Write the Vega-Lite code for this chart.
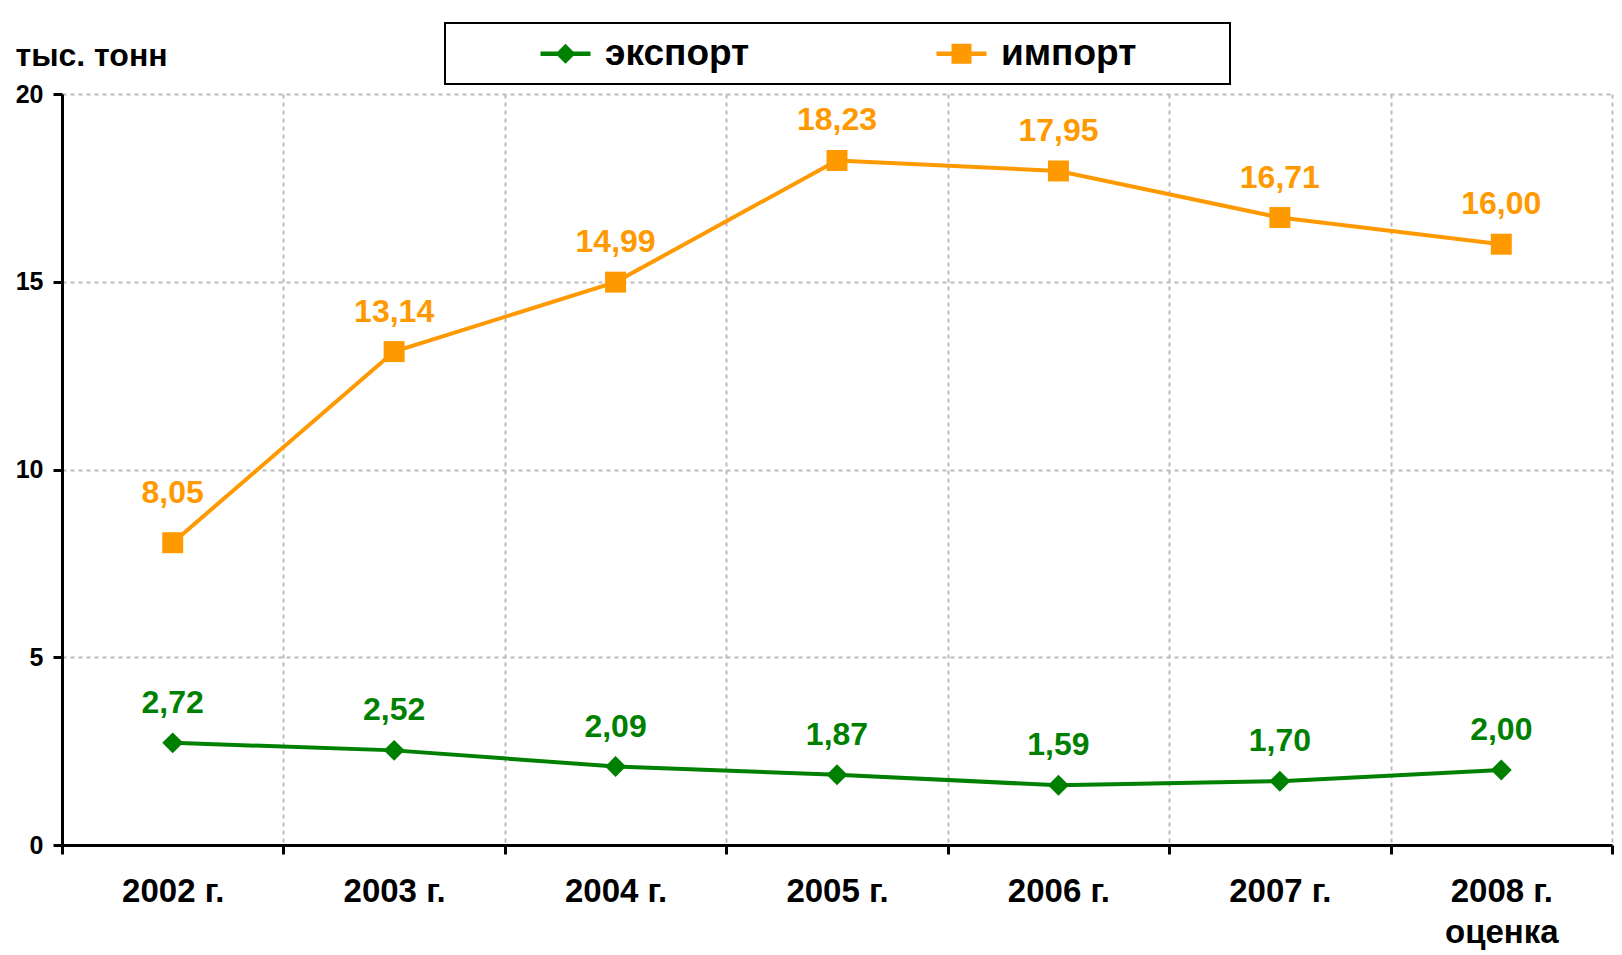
{
  "$schema": "https://vega.github.io/schema/vega-lite/v6.json",
  "autosize": {"type": "none"},
  "padding": {"left": 62, "top": 94, "right": 10, "bottom": 110},
  "width": 1550,
  "height": 751,
  "background": "white",
  "config": {
    "view": {"stroke": null},
    "font": "Liberation Sans",
    "locale": {"number": {"decimal": ",", "thousands": " ", "grouping": [3], "currency": ["", ""]}}
  },
  "data": {
    "values": [
      {"year": "2002 г.", "series": "экспорт", "value": 2.72},
      {"year": "2003 г.", "series": "экспорт", "value": 2.52},
      {"year": "2004 г.", "series": "экспорт", "value": 2.09},
      {"year": "2005 г.", "series": "экспорт", "value": 1.87},
      {"year": "2006 г.", "series": "экспорт", "value": 1.59},
      {"year": "2007 г.", "series": "экспорт", "value": 1.70},
      {"year": "2008 г. оценка", "series": "экспорт", "value": 2.00},
      {"year": "2002 г.", "series": "импорт", "value": 8.05},
      {"year": "2003 г.", "series": "импорт", "value": 13.14},
      {"year": "2004 г.", "series": "импорт", "value": 14.99},
      {"year": "2005 г.", "series": "импорт", "value": 18.23},
      {"year": "2006 г.", "series": "импорт", "value": 17.95},
      {"year": "2007 г.", "series": "импорт", "value": 16.71},
      {"year": "2008 г. оценка", "series": "импорт", "value": 16.00}
    ]
  },
  "encoding": {
    "x": {
      "field": "year", "type": "nominal", "sort": null,
      "scale": {"type": "band", "paddingInner": 0, "paddingOuter": 0},
      "axis": {
        "title": null, "labelAngle": 0, "tickBand": "extent",
        "grid": true, "gridColor": "#bbbbbb", "gridWidth": 2, "gridDash": [4, 4],
        "domainColor": "black", "domainWidth": 3,
        "tickColor": "black", "tickWidth": 3, "tickSize": 9,
        "labelFont": "Liberation Sans", "labelFontSize": 33, "labelFontWeight": "bold", "labelColor": "black",
        "labelPadding": 21, "labelLineHeight": 41,
        "labelExpr": "datum.label == '2008 г. оценка' ? ['2008 г.', 'оценка'] : datum.label"
      }
    },
    "y": {
      "field": "value", "type": "quantitative",
      "scale": {"domain": [0, 20], "nice": false},
      "axis": {
        "values": [0, 5, 10, 15, 20],
        "title": "тыс. тонн", "titleAngle": 0, "titleAlign": "left", "titleBaseline": "alphabetic",
        "titleX": -47, "titleY": -29,
        "titleFont": "Liberation Sans", "titleFontSize": 32, "titleFontWeight": "bold", "titleColor": "black",
        "grid": true, "gridColor": "#bbbbbb", "gridWidth": 2, "gridDash": [4, 4],
        "domainColor": "black", "domainWidth": 3,
        "tickColor": "black", "tickWidth": 3, "tickSize": 9,
        "labelFont": "Liberation Sans", "labelFontSize": 25, "labelFontWeight": "bold", "labelColor": "black",
        "labelPadding": 10
      }
    },
    "color": {
      "field": "series", "type": "nominal",
      "scale": {"domain": ["экспорт", "импорт"], "range": ["#008000", "#FF9900"]},
      "legend": {
        "title": " ", "titleOrient": "left", "titlePadding": 90, "titleFontSize": 34,
        "orient": "none", "legendX": 383, "legendY": -71, "direction": "horizontal",
        "padding": 12, "strokeColor": "black", "fillColor": "white",
        "labelFont": "Liberation Sans", "labelFontSize": 37, "labelFontWeight": "bold", "labelColor": "black",
        "labelLimit": 600,
        "symbolSize": 400, "labelOffset": 21, "columnPadding": 186,
        "labelExpr": "datum.label == 'импорт' ? datum.label + '\u2800\u2800\u2800' : datum.label",
        "encode": {
          "legend": {"update": {"strokeWidth": {"value": 2}}},
          "symbols": {"update": {
            "shape": {"signal": "datum.value == 'экспорт' ? 'M0,-1L1,0L0,1L-1,0ZM-2.5,-0.22H2.5V0.22H-2.5Z' : 'M-1,-1H1V1H-1ZM-2.5,-0.22H2.5V0.22H-2.5Z'"},
            "fill": {"signal": "datum.value == 'экспорт' ? '#008000' : '#FF9900'"},
            "fillOpacity": {"value": 1},
            "opacity": {"value": 1},
            "strokeWidth": {"value": 0}
          }}
        }
      }
    }
  },
  "layer": [
    {"mark": {"type": "line", "strokeWidth": 4}},
    {
      "transform": [{"filter": "datum.series == 'экспорт'"}],
      "mark": {"type": "point", "filled": true, "size": 440, "opacity": 1, "shape": "diamond"}
    },
    {
      "transform": [{"filter": "datum.series == 'импорт'"}],
      "mark": {"type": "point", "filled": true, "size": 440, "opacity": 1, "shape": "square"}
    },
    {
      "transform": [{"filter": "!(datum.year == '2002 г.' && datum.series == 'импорт')"}],
      "mark": {"type": "text", "dy": -40, "baseline": "middle", "align": "center", "font": "Liberation Sans", "fontSize": 32, "fontWeight": "bold"},
      "encoding": {"text": {"field": "value", "type": "quantitative", "format": ".2f"}}
    },
    {
      "transform": [{"filter": "datum.year == '2002 г.' && datum.series == 'импорт'"}],
      "mark": {"type": "text", "dy": -50, "baseline": "middle", "align": "center", "font": "Liberation Sans", "fontSize": 32, "fontWeight": "bold"},
      "encoding": {"text": {"field": "value", "type": "quantitative", "format": ".2f"}}
    }
  ]
}
